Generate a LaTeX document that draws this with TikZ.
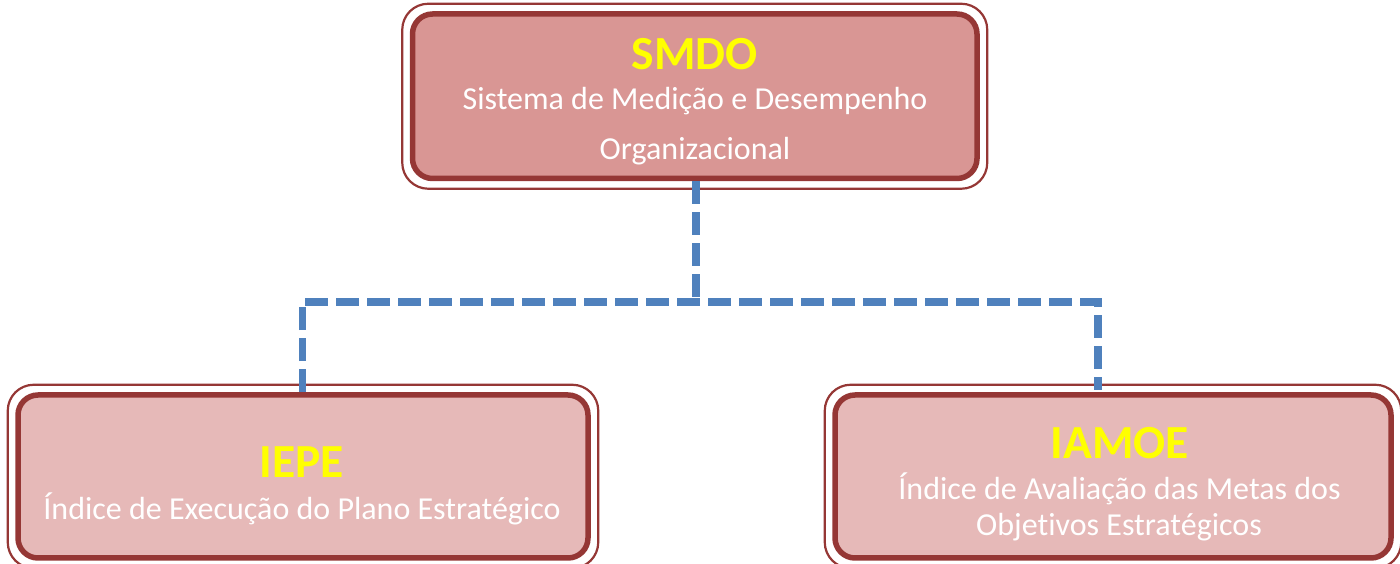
\documentclass[tikz,border=0pt]{standalone}
\usepackage{fontspec}
\setmainfont[Ligatures=NoCommon]{Carlito}
\definecolor{brd}{HTML}{953735}
\definecolor{topfill}{HTML}{D99694}
\definecolor{botfill}{HTML}{E6B9B8}
\definecolor{conncol}{HTML}{4F81BD}
\definecolor{ttl}{HTML}{FFFF00}
\tikzset{
  box/.style={draw=brd, line width=5.5pt, rounded corners=20pt, rectangle, inner sep=0pt},
  outerline/.style={draw=brd, line width=2.2pt, rounded corners=26pt},
  conn/.style={draw=conncol, line width=7.5pt, dash pattern=on 23pt off 8pt},
  ttltext/.style={text=ttl, font=\fontsize{47.5}{50}\selectfont\bfseries, anchor=base, inner sep=0pt},
  subtext/.style={text=white, font=\fontsize{32}{34}\selectfont, anchor=base, inner sep=0pt},
}
\begin{document}
\begin{tikzpicture}[x=1pt,y=1pt]
\useasboundingbox (0,0) rectangle (1400,564);
% boxes
\node[box, fill=topfill, minimum width=564.5pt, minimum height=164.5pt] (smdo) at (694.75,467.75) {};
\node[box, fill=botfill, minimum width=570pt, minimum height=163pt] (iepe) at (303,87.5) {};
\node[box, fill=botfill, minimum width=556pt, minimum height=163pt] (iamoe) at (1113,87.5) {};
\foreach \n in {smdo,iepe,iamoe}{
  \draw[outerline] ([shift={(-7.5pt,-7.5pt)}]\n.south west) rectangle ([shift={(7.5pt,7.5pt)}]\n.north east);
}
% connectors
\coordinate (bus) at (696,262);
\draw[conn] (smdo.south -| bus) -- (bus);
\draw[conn] (iepe.north -| 302.5,0) -- (302.5,262) -- (1098,262) -- (1098,174);
% texts
\node[ttltext] (t1) at (695,494) {SMDO};
\node[subtext] (s1a) at (695,454) {Sistema de Medição e Desempenho};
\node[subtext] (s1b) at (695,404) {Organizacional};
\node[ttltext] (t2) at (302,86.5) {IEPE};
\node[subtext] (s2) at (302,44.5) {Índice de Execução do Plano Estratégico};
\node[ttltext] (t3) at (1120,105) {IAMOE};
\node[subtext] (s3a) at (1119.5,64) {Índice de Avaliação das Metas dos};
\node[subtext] (s3b) at (1119,28) {Objetivos Estratégicos};
\end{tikzpicture}
\end{document}
